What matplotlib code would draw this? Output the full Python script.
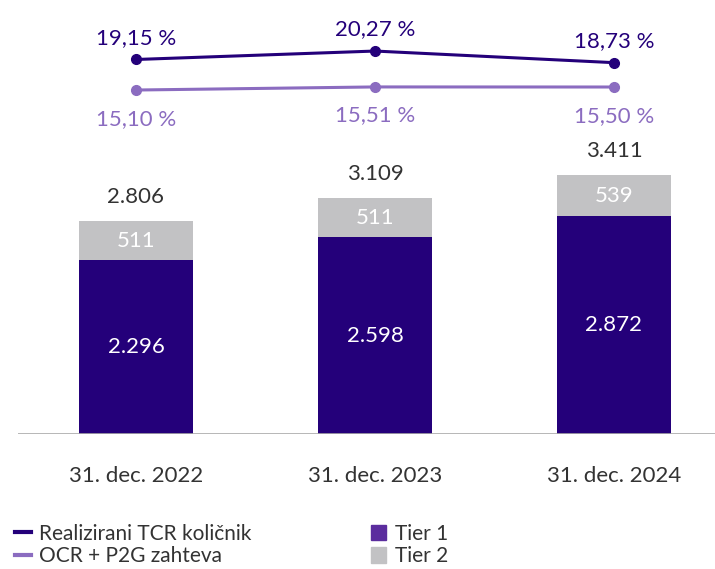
import matplotlib.pyplot as plt
from matplotlib.lines import Line2D
from matplotlib.patches import Patch

plt.rcParams['font.family'] = ['Lato', 'DejaVu Sans']

categories = ["31. dec. 2022", "31. dec. 2023", "31. dec. 2024"]
tier1 = [2296, 2598, 2872]
tier2 = [511, 511, 539]
totals = [2806, 3109, 3411]
tcr = [19.15, 20.27, 18.73]
ocr = [15.10, 15.51, 15.50]

DARK = "#24007A"
LIGHT = "#8B6CC0"
GREY = "#C2C2C4"
TIER1_LEG = "#5B2D9E"


def fmt_int(v):
    return f"{v:,}".replace(",", ".")


def fmt_pct(v):
    return f"{v:.2f}".replace(".", ",") + " %"


fig = plt.figure(figsize=(7.15, 5.69), dpi=100)
ax = fig.add_axes([18 / 715, 1 - 434 / 569, 697 / 715, 434 / 569])
x = list(range(len(categories)))
w = 114 / 239

ax.bar(x, tier1, width=w, color=DARK)
ax.bar(x, tier2, width=w, bottom=tier1, color=GREY)
for i in x:
    ax.text(i, tier1[i] / 2, fmt_int(tier1[i]), ha="center", va="center",
            color="white", fontsize=16)
    ax.text(i, tier1[i] + tier2[i] / 2, fmt_int(tier2[i]), ha="center",
            va="center", color="white", fontsize=16)
    ax.text(i, tier1[i] + tier2[i] + 320, fmt_int(totals[i]), ha="center",
            va="center", color="#333333", fontsize=16)

ax.set_xlim(-118 / 239, 579 / 239)
ax.set_ylim(0, 5726)
ax.axis("off")
ax.axhline(0, color="#AAAAAA", linewidth=1.2)

for i, c in enumerate(categories):
    ax.text(i, -560, c, ha="center", va="center", color="#333333", fontsize=16)

ax2 = ax.twinx()
ax2.set_ylim(-30.52, 27.04)
ax2.axis("off")
ax2.plot(x, tcr, color=DARK, linewidth=2.2, marker="o", markersize=7)
ax2.plot(x, ocr, color=LIGHT, linewidth=2.2, marker="o", markersize=7)
for i in x:
    ax2.text(i, tcr[i] + 2.9, fmt_pct(tcr[i]), ha="center", va="center",
             color=DARK, fontsize=16)
    ax2.text(i, ocr[i] - 3.8, fmt_pct(ocr[i]), ha="center", va="center",
             color=LIGHT, fontsize=16)

handles = [
    Line2D([], [], color=DARK, linewidth=3),
    Line2D([], [], color=LIGHT, linewidth=3),
    Patch(color=TIER1_LEG),
    Patch(color=GREY),
]
labels = ["Realizirani TCR količnik", "OCR + P2G zahteva", "Tier 1", "Tier 2"]
fig.legend(handles, labels, ncol=2, loc="upper left",
           bbox_to_anchor=(0.01, 0.094), frameon=False, fontsize=15,
           handlelength=0.75, handleheight=0.75, handletextpad=0.4,
           columnspacing=5.7, labelspacing=0.12, borderaxespad=0,
           labelcolor="#333333")

fig.savefig("out.png", dpi=100)
